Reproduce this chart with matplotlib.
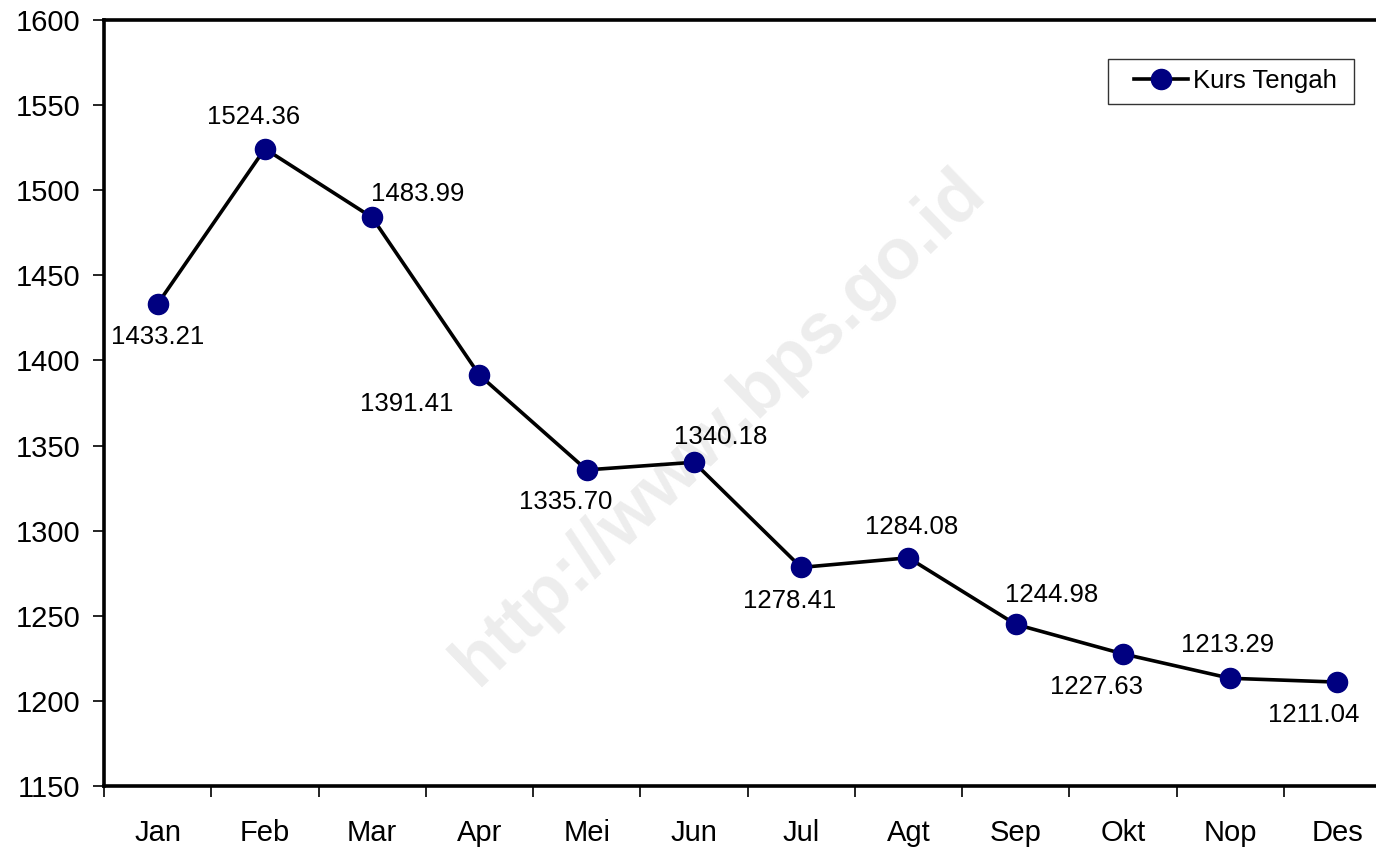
import matplotlib.pyplot as plt
from matplotlib.legend_handler import HandlerLine2D
from matplotlib.ticker import FixedLocator, NullFormatter

plt.rcParams["font.family"] = ["Liberation Sans", "DejaVu Sans"]

months = ["Jan", "Feb", "Mar", "Apr", "Mei", "Jun", "Jul", "Agt", "Sep", "Okt", "Nop", "Des"]
kurs_tengah = [1433.21, 1524.36, 1483.99, 1391.41, 1335.70, 1340.18,
               1278.41, 1284.08, 1244.98, 1227.63, 1213.29, 1211.04]
y_ticks = [1150, 1200, 1250, 1300, 1350, 1400, 1450, 1500, 1550, 1600]

# label offsets in points (dx, dy) relative to each marker
label_offsets = [(0, -24), (-8, 23), (33, 17), (-52, -21), (-15, -23), (19, 18),
                 (-8, -24), (2, 22), (26, 21), (-19, -24), (-2, 24), (-17, -24)]

fig = plt.figure(figsize=(13.76, 8.51), dpi=100)
ax = fig.add_axes([104 / 1376, 1 - 786 / 851, 1287 / 1376, 766 / 851])

x = list(range(len(months)))
line, = ax.plot(x, kurs_tengah, color="black", lw=2.6, marker="o", ms=14.5,
                mfc="#000080", mec="#000080", label="Kurs Tengah ", zorder=3)

for xi, yi, (dx, dy) in zip(x, kurs_tengah, label_offsets):
    ax.annotate(f"{yi:.2f}", (xi, yi), xytext=(dx, dy), textcoords="offset points",
                ha="center", va="center", fontsize=18.5, zorder=4)

# watermark
ax.text(0.478, 0.468, "http://www.bps.go.id", transform=ax.transAxes, rotation=44,
        ha="center", va="center", fontsize=52, fontweight="bold", color="#ededed", zorder=1)

ax.set_xlim(-0.5, 11.5)
ax.set_ylim(1150, 1600)
ax.set_yticks(y_ticks)
ax.set_xticks(x)
ax.set_xticklabels(months)
ax.xaxis.set_minor_locator(FixedLocator([i - 0.5 for i in range(13)]))
ax.xaxis.set_minor_formatter(NullFormatter())
ax.tick_params(axis="x", which="major", length=0, pad=24, labelsize=21)
ax.tick_params(axis="x", which="minor", length=8, width=1.2, direction="out")
ax.tick_params(axis="y", length=8, width=1.2, direction="out", pad=9, labelsize=21)
for s in ax.spines.values():
    s.set_linewidth(2.6)

leg = ax.legend(loc="upper left", bbox_to_anchor=(1108 / 1376, 1 - 59 / 851),
                bbox_transform=fig.transFigure, fontsize=18.5, frameon=True,
                fancybox=False, handlelength=2.7, handletextpad=0.2,
                borderpad=0.4, borderaxespad=0,
                handler_map={line: HandlerLine2D(xpad=0.6)})
leg.get_frame().set_edgecolor("black")
leg.get_frame().set_linewidth(1.0)

fig.savefig("out.png", dpi=100)
